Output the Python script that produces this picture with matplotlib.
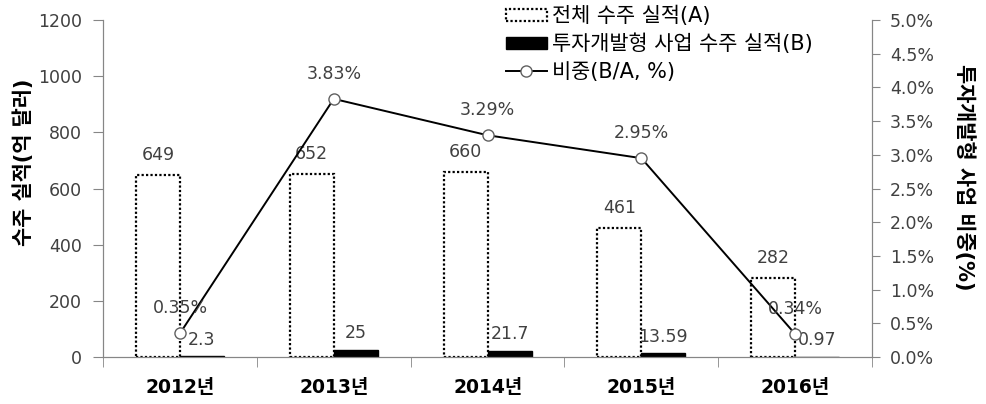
import matplotlib.pyplot as plt
import numpy as np
from matplotlib.patches import Patch
from matplotlib.lines import Line2D

plt.rcParams['font.family'] = ['DejaVu Sans', 'Noto Sans CJK KR']

years = ['2012년', '2013년', '2014년', '2015년', '2016년']
total_orders = [649, 652, 660, 461, 282]
invest_orders = [2.3, 25, 21.7, 13.59, 0.97]
ratio = [0.35, 3.83, 3.29, 2.95, 0.34]

axis_color = '#868686'
text_color = '#404040'
dots = (0, (1, 1))

fig = plt.figure(figsize=(9.86, 4.04), dpi=100)
ax = fig.add_axes([0.1045, 0.1163, 0.78, 0.8342])
ax2 = ax.twinx()

x = np.arange(len(years))
w = 0.286

ax.bar(x - w / 2, total_orders, w, facecolor='white', edgecolor='black',
       linestyle=dots, linewidth=1.6, zorder=2)
ax.bar(x + w / 2, invest_orders, w, facecolor='black', edgecolor='black', zorder=2)

for xi, v in zip(x, total_orders):
    ax.annotate(f'{v}', (xi - w / 2, v), xytext=(0, 14), textcoords='offset points',
                ha='center', va='center', fontsize=12.5, color=text_color)
for xi, v in zip(x, invest_orders):
    ax.annotate(f'{v:g}', (xi + w / 2, v), xytext=(0, 12), textcoords='offset points',
                ha='center', va='center', fontsize=12.5, color=text_color)

ax2.plot(x, ratio, color='black', linewidth=1.4, marker='o', markersize=8,
         markerfacecolor='white', markeredgecolor='#606060', zorder=3)
for xi, v in zip(x, ratio):
    ax2.annotate(f'{v:.2f}%', (xi, v), xytext=(0, 18), textcoords='offset points',
                 ha='center', va='center', fontsize=12.5, color=text_color)

ax.set_xlim(-0.5, len(years) - 0.5)
ax.set_ylim(0, 1200)
ax.set_yticks(range(0, 1201, 200))
ax2.set_ylim(0, 5.0)
ax2.set_yticks(np.arange(0, 5.01, 0.5))
ax2.set_yticklabels([f'{t:.1f}%' for t in np.arange(0, 5.01, 0.5)])

ax.set_xticks(x)
ax.set_xticklabels(years, fontsize=13.5, fontweight='bold', color='black')
ax.tick_params(axis='x', which='major', length=0, pad=15)
ax.set_xticks(np.arange(-0.5, len(years), 1), minor=True)
ax.tick_params(axis='x', which='minor', length=7, color=axis_color)

for a in (ax, ax2):
    a.spines['top'].set_visible(False)
    for s in ['left', 'right', 'bottom']:
        a.spines[s].set_color(axis_color)
ax.tick_params(axis='y', length=7, pad=8, color=axis_color, labelsize=12.5,
               labelcolor=text_color)
ax2.tick_params(axis='y', length=6, pad=7, color=axis_color, labelsize=12.5,
                labelcolor=text_color)

ax.set_ylabel('수주 실적(억 달러)', fontsize=15, fontweight='bold')
ax.yaxis.set_label_coords(-0.09, 0.579)
ax2.set_ylabel('투자개발형 사업 비중(%)', fontsize=15, fontweight='bold', rotation=-90)
ax2.yaxis.set_label_coords(1.134, 0.534)

handles = [
    Patch(facecolor='white', edgecolor='black', linestyle=dots, linewidth=1.6),
    Patch(facecolor='black', edgecolor='black'),
    Line2D([], [], color='black', linewidth=1.4, marker='o', markersize=8,
           markerfacecolor='white', markeredgecolor='#606060'),
]
labels = ['전체 수주 실적(A)', '투자개발형 사업 수주 실적(B)', '비중(B/A, %)']
fig.legend(handles, labels, loc='upper left', bbox_to_anchor=(0.498, 1.022),
           frameon=False, fontsize=15, handlelength=2.0, handleheight=0.5,
           handletextpad=0.25, labelspacing=0.36, borderpad=0.2)

fig.savefig('out.png', dpi=100)
